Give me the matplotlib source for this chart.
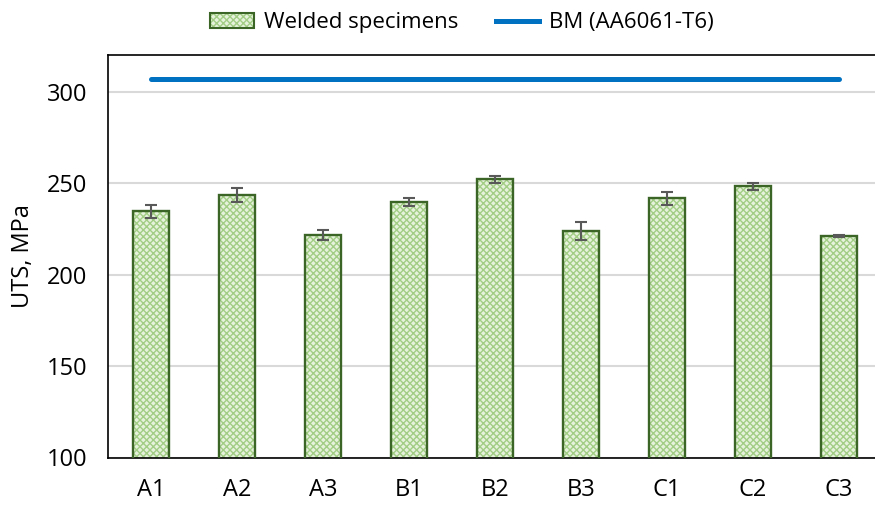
import matplotlib.pyplot as plt
from matplotlib.lines import Line2D
from matplotlib.patches import Patch

plt.rcParams['font.family'] = ['Open Sans', 'DejaVu Sans']

# data
samples = ['A1', 'A2', 'A3', 'B1', 'B2', 'B3', 'C1', 'C2', 'C3']
uts = [234.5, 243.6, 221.4, 239.6, 252.0, 223.6, 241.6, 248.2, 221.0]
uts_err = [3.4, 3.9, 2.7, 2.2, 2.0, 4.9, 3.7, 2.0, 0.5]
bm_uts = 307.0
yticks = [100, 150, 200, 250, 300]

fill_col = '#e6f2dc'
hatch_col = '#a2cd85'
edge_col = '#3b6427'
bm_col = '#0070c0'

fig = plt.figure(figsize=(8.75, 5.07), dpi=100)
ax = fig.add_axes([108/875, 49.5/507, 774/875, 402.5/507])

x = list(range(len(samples)))
# checker fill, then dark outline on top
ax.bar(x, uts, width=0.41, color=fill_col, edgecolor=hatch_col, hatch='xxxxx',
       linewidth=0, zorder=2)
ax.bar(x, uts, width=0.41, fill=False, edgecolor=edge_col, linewidth=1.7, zorder=3)
ax.errorbar(x, uts, yerr=uts_err, fmt='none', ecolor='#595959', elinewidth=1.5,
            capsize=4.5, capthick=1.5, zorder=4)

ax.plot(x, [bm_uts]*len(x), color=bm_col, linewidth=3.6, solid_capstyle='round', zorder=4)

ax.set_xlim(-0.5, 8.5)
ax.set_ylim(100, 320)
ax.set_yticks(yticks)
ax.set_xticks(x)
ax.set_xticklabels(samples)
ax.yaxis.grid(True, color='#d9d9d9', linewidth=1.5)
ax.set_axisbelow(True)
for s in ax.spines.values():
    s.set_linewidth(1.2)
ax.tick_params(axis='both', length=0, labelsize=17)
ax.tick_params(axis='y', pad=15)
ax.tick_params(axis='x', pad=15)
ax.set_ylabel('UTS, MPa', fontsize=17, labelpad=8)

# legend patch: hatch layer plus outline layer
leg_fill = (Patch(facecolor=fill_col, edgecolor=hatch_col, hatch='xxxxx', linewidth=0),
            Patch(fill=False, edgecolor=edge_col, linewidth=1.5))
handles = [leg_fill, Line2D([], [], color=bm_col, linewidth=3.6)]
fig.legend(handles, ['Welded specimens', 'BM (AA6061-T6)'], loc='upper center',
           bbox_to_anchor=(0.528, 1.015), ncol=2, frameon=False, fontsize=16,
           handlelength=1.95, handletextpad=0.45, columnspacing=1.7)

fig.savefig('out.png', dpi=100)
